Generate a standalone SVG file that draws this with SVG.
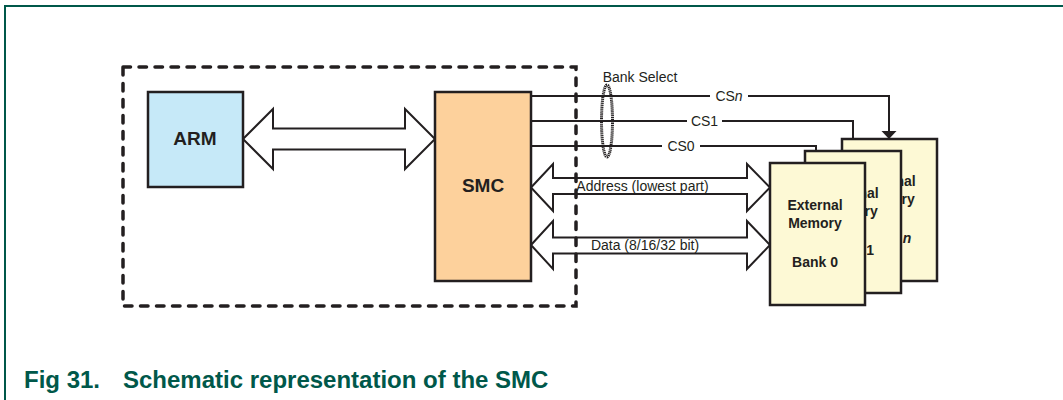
<svg xmlns="http://www.w3.org/2000/svg" width="1063" height="400" viewBox="0 0 1063 400">
<defs>
<style>
.frame{fill:none;stroke:#00584a;stroke-width:2}
.box{stroke:#231f20;stroke-width:2.5}
.bus{fill:#ffffff;stroke:#231f20;stroke-width:2;stroke-linejoin:miter}
.wire{fill:none;stroke:#231f20;stroke-width:2}
.head{fill:#231f20}
.dash{fill:none;stroke:#231f20;stroke-width:3.5;stroke-dasharray:7.5 8.5;stroke-linecap:round}
.big{font-family:"Liberation Sans",Arial,sans-serif;font-weight:bold;font-size:19px;fill:#231f20;text-anchor:middle}
.mem{font-family:"Liberation Sans",Arial,sans-serif;font-weight:bold;font-size:14px;fill:#231f20;text-anchor:middle}
.lbl{font-family:"Liberation Sans",Arial,sans-serif;font-size:14px;fill:#231f20}
.cap{font-family:"Liberation Sans",Arial,sans-serif;font-weight:bold;font-size:24px;fill:#00584a}
</style>
</defs>
<path class="frame" d="M1063,6 H5 V400"/>
<g id="connectors">
<polygon class="bus" points="243,139 273,109 273,128.5 405,128.5 405,109 435,139 405,169 405,149.5 273,149.5 273,169"/>
<polygon class="bus" points="531,187.5 553,164 553,178 747,178 747,164 770,187.5 747,211 747,194 553,194 553,211"/>
<polygon class="bus" points="531,245 553,221 553,237.5 747,237.5 747,221 770,245 747,269 747,253.5 553,253.5 553,269"/>
<path class="wire" d="M531,96 H710 M748,96 H889 V132"/>
<polygon class="head" points="881.5,131 896.5,131 889,139"/>
<path class="wire" d="M531,121 H687 M722,121 H853 V144"/>
<polygon class="head" points="845.5,143 860.5,143 853,151"/>
<path class="wire" d="M531,146 H662 M700,146 H816 V156"/>
<polygon class="head" points="808.5,155 823.5,155 816,163"/>
<ellipse cx="607" cy="121" rx="5.5" ry="36" fill="none" stroke="#231f20" stroke-width="3" stroke-dasharray="1.2 0.7"/>
<text class="lbl" x="640" y="82" text-anchor="middle">Bank Select</text>
<text class="lbl" x="729" y="101" text-anchor="middle">CS<tspan font-style="italic">n</tspan></text>
<text class="lbl" x="704.5" y="126" text-anchor="middle">CS1</text>
<text class="lbl" x="681" y="151" text-anchor="middle">CS0</text>
<text class="lbl" x="642.5" y="191" text-anchor="middle">Address (lowest part)</text>
<text class="lbl" x="645" y="250" text-anchor="middle">Data (8/16/32 bit)</text>
</g>
<g id="boundary">
<rect class="dash" x="123" y="67" width="453" height="239"/>
</g>
<g id="arm">
<rect class="box" x="148" y="92" width="95" height="95" fill="#c6e9f8"/>
<text class="big" x="195" y="145">ARM</text>
</g>
<g id="smc">
<rect class="box" x="435" y="92" width="96" height="189" fill="#fdd19c"/>
<text class="big" x="483" y="192">SMC</text>
</g>
<g id="bank-n">
<rect class="box" x="842" y="139" width="95" height="142" fill="#fdf9d5"/>
<text class="mem" x="888" y="186">External</text>
<text class="mem" x="888" y="204">Memory</text>
<text class="mem" x="888" y="243">Bank <tspan font-style="italic">n</tspan></text>
</g>
<g id="bank-1">
<rect class="box" x="805" y="151" width="96" height="142" fill="#fdf9d5"/>
<text class="mem" x="851" y="198">External</text>
<text class="mem" x="851" y="216">Memory</text>
<text class="mem" x="851" y="255">Bank 1</text>
</g>
<g id="bank-0">
<rect class="box" x="770" y="163" width="95" height="142" fill="#fdf9d5"/>
<text class="mem" x="815" y="210">External</text>
<text class="mem" x="815" y="228">Memory</text>
<text class="mem" x="815" y="267">Bank 0</text>
</g>
<text class="cap" x="24" y="388">Fig 31.<tspan x="123">Schematic representation of the SMC</tspan></text>
</svg>
